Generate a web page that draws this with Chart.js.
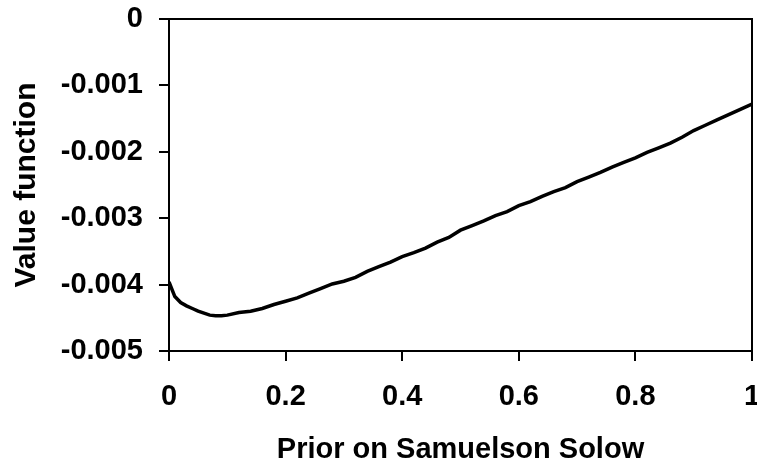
<!DOCTYPE html>
<html>
<head>
<meta charset="utf-8">
<script src="https://cdn.jsdelivr.net/npm/chart.js@4/dist/chart.umd.min.js"></script>
<style>
html,body{margin:0;padding:0;background:#fff;}
#wrap{width:757px;height:467px;position:relative;}
</style>
</head>
<body>
<div id="wrap"><canvas id="c" width="757" height="467"></canvas></div>
<script>
const priorX = [0.00,0.01,0.02,0.03,0.04,0.05,0.06,0.07,0.08,0.09,0.10,0.12,0.14,0.16,0.18,0.20,0.22,0.24,0.26,0.28,0.30,0.32,0.34,0.36,0.38,0.40,0.42,0.44,0.46,0.48,0.50,0.52,0.54,0.56,0.58,0.60,0.62,0.64,0.66,0.68,0.70,0.72,0.74,0.76,0.78,0.80,0.82,0.84,0.86,0.88,0.90,0.92,0.94,0.96,0.98,1.00];
const valueFn = [-0.00396,-0.00418,-0.00427,-0.00432,-0.00436,-0.00440,-0.00443,-0.00446,-0.00447,-0.00447,-0.00446,-0.00442,-0.00440,-0.00436,-0.00430,-0.00425,-0.00420,-0.00413,-0.00406,-0.00399,-0.00395,-0.00389,-0.00380,-0.00373,-0.00366,-0.00358,-0.00352,-0.00345,-0.00336,-0.00329,-0.00318,-0.00311,-0.00304,-0.00296,-0.00290,-0.00281,-0.00275,-0.00267,-0.00260,-0.00254,-0.00245,-0.00238,-0.00231,-0.00223,-0.00216,-0.00209,-0.00201,-0.00194,-0.00187,-0.00178,-0.00168,-0.00160,-0.00152,-0.00144,-0.00136,-0.00128];
const xTitle = 'Prior on Samuelson Solow';
const yTitle = 'Value function';

const FONT = 'Liberation Sans, Arial, sans-serif';
const boxPlugin = {
  id: 'box',
  afterDatasetsDraw(chart) {
    const {ctx, chartArea: a} = chart;
    ctx.save();
    ctx.strokeStyle = '#000';
    ctx.lineWidth = 2;
    ctx.beginPath();
    ctx.moveTo(a.left, a.top);
    ctx.lineTo(a.right, a.top);
    ctx.lineTo(a.right, a.bottom);
    ctx.stroke();
    ctx.restore();
  }
};
function fmt(v){ const n = Number(v.toFixed(3)); return (n === 0 ? 0 : n).toString(); }

new Chart(document.getElementById('c'), {
  type: 'line',
  data: {
    datasets: [{
      data: priorX.map((x, i) => ({x: x, y: valueFn[i]})),
      borderColor: '#000',
      borderWidth: 3.5,
      pointRadius: 0,
      tension: 0,
      fill: false
    }]
  },
  options: {
    responsive: false,
    animation: false,
    layout: {padding: {left: 0, right: 5, top: 19, bottom: 0}},
    plugins: {legend: {display: false}, tooltip: {enabled: false}},
    scales: {
      x: {
        type: 'linear', min: 0, max: 1,
        ticks: {stepSize: 0.2, callback: fmt, color: '#000', padding: 19, maxRotation: 0,
                font: {family: FONT, size: 29, weight: 'bold'}},
        grid: {drawOnChartArea: false, drawTicks: true, tickLength: 10, color: '#000', lineWidth: 2},
        border: {display: true, color: '#000', width: 2},
        title: {display: true, text: xTitle, color: '#000', padding: {top: 0, bottom: 0},
                font: {family: FONT, size: 29, weight: 'bold'}},
        afterFit(s){ s.height = 116; s.paddingLeft = 0; s.paddingRight = 0; }
      },
      y: {
        type: 'linear', min: -0.005, max: 0,
        ticks: {stepSize: 0.001, callback: fmt, color: '#000', padding: 16,
                font: {family: FONT, size: 29, weight: 'bold'}},
        grid: {drawOnChartArea: false, drawTicks: true, tickLength: 10, color: '#000', lineWidth: 2},
        border: {display: true, color: '#000', width: 2},
        title: {display: true, text: yTitle, color: '#000', padding: {top: 9, bottom: 0},
                font: {family: FONT, size: 30, weight: 'bold'}},
        afterFit(s){ s.width = 169; s.paddingTop = 0; s.paddingBottom = 0; }
      }
    }
  },
  plugins: [boxPlugin]
});
</script>
</body>
</html>
